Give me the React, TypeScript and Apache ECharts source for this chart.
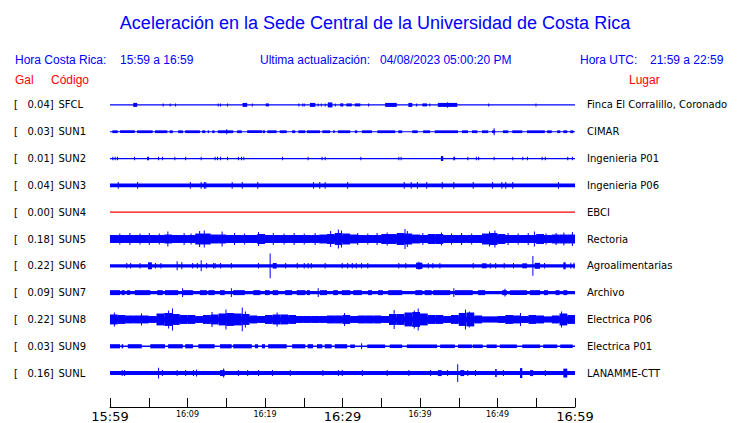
import React, { useEffect, useRef } from 'react';
import * as echarts from 'echarts';

// ---- Data ----
const CODES = ['SFCL', 'SUN1', 'SUN2', 'SUN3', 'SUN4', 'SUN5', 'SUN6', 'SUN7', 'SUN8', 'SUN9', 'SUNL'];
const GAL = ['0.04', '0.03', '0.01', '0.04', '0.00', '0.18', '0.22', '0.09', '0.22', '0.03', '0.16'];
const PLACES = [
  'Finca El Corralillo, Coronado', 'CIMAR', 'Ingenieria P01', 'Ingenieria P06', 'EBCI', 'Rectoria',
  'Agroalimentarias', 'Archivo', 'Electrica P06', 'Electrica P01', 'LANAMME-CTT',
];
// tick labels, one per 5-minute tick (minutes after 15:59)
const TIME_LABELS = ['15:59', '', '16:09', '', '16:19', '', '16:29', '', '16:39', '', '16:49', '', '16:59'];
const MAJOR_TICKS = [0, 6, 12];

// half amplitude of the quiet trace (display counts; 27 counts = one trace spacing)
const BASE = [0.6, 0.6, 0.6, 1.8, 0.6, 3.5, 1.7, 1.7, 2.8, 0.8, 2];

// per-minute envelopes (half amplitude)
const ENV_SUN5 = [
  4, 4, 4, 4, 4, 4, 4, 4.5, 4, 4,
  4, 5.5, 5.5, 4.5, 4.5, 4, 4, 4, 4, 5,
  4, 4, 4, 4, 4, 4, 4, 4.5, 5, 6,
  5.5, 4.5, 4, 4, 4, 5, 5, 6, 5.5, 4.5,
  4, 5, 5, 4, 4, 4, 4, 4, 5.5, 6,
  5, 4, 4, 4, 4, 5, 4, 4.5, 4.5, 4.5,
];
const ENV_SUN8 = [
  5, 4.5, 4, 4, 4, 3.5, 6, 6.5, 5.5, 4.5,
  4.5, 3.5, 4.5, 5, 6, 6.5, 6, 5.5, 4, 3.5,
  4.5, 5, 5, 4.5, 3.5, 3.5, 3.5, 3.5, 4, 4,
  4.5, 3.5, 4, 4, 4, 3.5, 5.5, 5.5, 7, 7.5,
  6, 4.5, 4.5, 3.5, 4.5, 6.5, 7, 4, 3, 3,
  3.5, 4.5, 4, 3.5, 4.5, 4, 3, 4, 6, 4.5,
];

// bursts: [start minute, end minute, half amplitude]
const SFCL_BURSTS = [
  [3.0, 3.5, 2], [17.1, 17.7, 2], [20.1, 20.5, 1.5], [25.8, 26.5, 2], [28.1, 28.7, 2.5],
  [29.7, 30.1, 1.5], [30.5, 31.2, 1.5], [31.6, 32.3, 1.5], [35.5, 37.0, 2], [38.5, 39.0, 2],
  [40.3, 40.9, 1.5], [42.3, 44.8, 2],
];
const SUN1_BURSTS = [
  [0.3, 1.0, 1.4], [1.3, 3.2, 1.4], [3.5, 5.5, 1.4], [5.8, 7.4, 1.4], [7.7, 8.1, 1.4], [8.8, 9.4, 1.4],
  [9.7, 11.6, 1.4], [11.9, 12.3, 1.4], [12.6, 12.8, 1.4], [13.2, 13.5, 1.4], [13.9, 15.9, 1.4],
  [16.4, 17.0, 1.4], [17.7, 19.6, 1.4], [19.7, 20.0, 1.4], [20.3, 21.5, 1.4], [21.9, 22.8, 1.4],
  [23.5, 23.9, 1.4], [24.3, 25.2, 1.4], [25.4, 27.1, 1.4], [27.4, 28.4, 1.4], [28.8, 29.0, 1.4],
  [29.4, 31.0, 1.4], [31.6, 31.9, 1.4], [32.5, 33.8, 1.4], [34.5, 36.8, 1.4], [37.2, 37.7, 1.4],
  [39.0, 39.7, 1.4], [40.4, 41.3, 1.4], [41.9, 44.9, 1.4], [45.4, 46.2, 1.4], [46.7, 47.4, 1.4],
  [48.0, 48.8, 1.4], [49.3, 49.7, 1.4], [50.7, 51.4, 1.4], [51.9, 53.2, 1.4], [53.8, 56.1, 1.4],
  [56.4, 57.0, 1.4], [57.7, 58.1, 1.4], [58.5, 59.0, 1.4], [59.4, 59.8, 1.4],
];
const SUN2_BURSTS = [[42.7, 43.0, 2.5]];
const SUN3_BURSTS: number[][] = [];
const SUN4_BURSTS: number[][] = [];
const SUN5_BURSTS: number[][] = [];
const SUN6_BURSTS = [
  [4.9, 5.4, 3.5], [21.0, 21.5, 2.8], [39.5, 40.3, 3.2], [48.0, 48.6, 2.5], [53.2, 53.8, 2.5],
  [54.8, 55.5, 3], [58.5, 58.8, 3.5],
];
const SUN7_BURSTS = [
  [0, 1.3, 2.5], [1.5, 1.9, 2.5], [2.2, 2.6, 2.5], [3.2, 5.2, 2.5], [6.1, 6.8, 2.5], [7.1, 8.8, 2.5],
  [9.4, 10.7, 2.5], [11.6, 12.5, 2.5], [12.7, 13.5, 2.5], [14.2, 14.8, 2.5], [15.9, 17.4, 2.5],
  [18.5, 19.4, 2.5], [20.0, 20.6, 2.5], [21.0, 21.7, 2.5], [22.6, 23.5, 2.5], [24.1, 25.2, 2.5],
  [25.4, 25.8, 2.5], [27.1, 28.0, 2.5], [28.8, 29.4, 2.5], [29.9, 31.0, 2.5], [31.4, 32.5, 2.5],
  [33.3, 33.8, 2.5], [34.6, 35.2, 2.5], [35.9, 37.7, 2.5], [39.4, 40.3, 2.5], [40.6, 41.5, 2.5],
  [41.7, 43.9, 2.5], [44.5, 46.8, 2.5], [47.5, 48.4, 2.5], [50.6, 51.2, 2.5], [51.6, 53.8, 2.5],
  [54.2, 55.5, 2.5], [56.0, 56.5, 2.5], [57.5, 58.0, 2.5], [58.5, 59.0, 2.5],
];
const SUN8_BURSTS: number[][] = [];
const SUN9_BURSTS = [
  [0, 1.3, 2.1], [1.5, 1.7, 2.1], [2.3, 4.1, 2.1], [5.2, 7.1, 2.1], [7.5, 9.4, 2.1], [9.7, 10.7, 2.1],
  [11.4, 13.5, 2.1], [14.2, 15.7, 2.1], [15.9, 18.3, 2.1], [18.7, 19.1, 2.1], [19.6, 20.0, 2.1],
  [20.4, 22.8, 2.1], [23.5, 25.2, 2.1], [25.5, 26.2, 2.1], [26.7, 27.4, 2.1], [27.7, 28.6, 2.1],
  [29.0, 30.6, 2.1], [31.0, 31.6, 1.8], [33.2, 35.5, 1.8], [36.1, 37.7, 1.8], [38.3, 42.2, 1.8],
  [42.6, 44.5, 1.8], [44.9, 46.7, 1.8], [46.8, 48.1, 1.8], [48.6, 49.9, 1.8], [50.3, 52.5, 1.8],
  [53.2, 55.5, 1.8], [55.9, 57.7, 1.8], [58.1, 59.7, 1.8],
];
const SUNL_BURSTS = [
  [14.2, 14.8, 3], [42.3, 42.8, 3], [45.2, 45.7, 3], [49.7, 49.9, 4], [52.9, 53.2, 5], [54.2, 54.6, 3],
  [58.5, 59.0, 4.5],
];

// spikes: [minute, half amplitude]
const SFCL_SPIKES = [
  [6.8, 1.5], [7.7, 1.5], [8.4, 1.5], [13.9, 1.5], [14.2, 1.5], [15.1, 1.5], [18.3, 1.5], [24.3, 1.5],
  [24.8, 1.5], [25.0, 1.5], [26.8, 1.5], [27.2, 1.5], [27.7, 1.5], [29.0, 1.5], [29.9, 1.5], [33.3, 1.5],
  [39.5, 1.5], [41.2, 1.5], [43.5, 2.8], [48.8, 1.5], [54.9, 1.5],
];
const SUN1_SPIKES = [[15.0, 2.5], [49.5, 3.5]];
const SUN2_SPIKES = [
  [0.3, 1.8], [0.6, 1.8], [0.9, 1.8], [3.1, 1.8], [4.8, 1.8], [4.9, 1.8], [6.2, 1.8], [6.7, 1.8],
  [8.3, 1.8], [9.7, 1.8], [11.7, 1.8], [13.5, 1.8], [13.8, 1.8], [14.2, 1.8], [15.1, 1.8], [16.5, 1.8],
  [16.9, 1.8], [17.2, 1.8], [22.2, 1.8], [25.5, 1.8], [27.3, 1.8], [27.7, 1.8], [32.3, 1.8], [37.2, 1.8],
  [37.5, 1.8], [44.3, 1.8], [44.4, 1.8], [46.1, 1.8], [47.2, 1.8], [47.5, 1.8], [49.5, 1.8], [51.9, 1.8],
  [53.2, 1.8], [53.8, 1.8], [55.7, 1.8], [56.1, 1.8], [59.0, 1.8], [59.6, 1.8],
];
const SUN3_SPIKES = [
  [1.0, 3.3], [3.5, 3.3], [10.3, 3.3], [11.7, 3.3], [12.1, 3.3], [12.3, 3.3], [15.7, 3.3], [17.0, 3.3],
  [19.0, 3.3], [26.2, 3.3], [27.0, 3.3], [27.7, 3.3], [30.6, 3.3], [37.9, 3.3], [38.8, 3.3], [39.6, 3.3],
  [40.8, 3.3], [42.8, 3.3], [44.3, 3.3], [46.8, 3.3], [49.3, 3.3], [50.5, 3.3], [51.0, 3.3], [51.9, 3.3],
  [57.8, 3.3],
];
const SUN4_SPIKES: number[][] = [];
const SUN5_SPIKES = [
  [7.4, 7.5], [11.5, 8], [12.1, 8.5], [14.4, 7.5], [19.1, 7], [28.4, 8], [29.4, 9.5], [29.8, 8.5],
  [35.7, 6.5], [38.0, 10], [38.3, 8], [40.3, 6], [48.9, 7.5], [49.6, 8.5], [54.7, 7.5], [57.5, 6],
  [1.2, 5.5], [2.5, 6], [3.8, 5.5], [5.0, 6], [6.3, 5.5], [9.5, 6], [10.4, 5.5], [16.0, 6], [17.3, 5.5],
  [21.0, 6], [22.4, 5.5], [23.7, 6], [25.0, 5.5], [26.4, 6], [31.9, 6], [33.2, 5.5], [34.4, 6],
  [42.7, 6.5], [44.0, 5.5], [45.3, 6], [46.6, 5.5], [51.3, 6], [52.6, 5.5], [53.9, 6], [56.2, 5.5],
  [58.5, 6.5], [59.6, 7],
];
const SUN6_SPIKES = [
  [2.1, 2.8], [2.6, 2.8], [3.8, 2.8], [5.8, 2.8], [6.5, 2.8], [8.6, 4.5], [9.2, 3.5], [10.6, 2.8],
  [11.2, 2.8], [11.7, 5.5], [12.4, 2.8], [13.3, 2.8], [13.5, 2.8], [14.2, 2.8], [15.6, 2.8], [19.1, 2.8],
  [20.6, 12.5], [22.6, 2.8], [24.1, 2.8], [25.0, 2.8], [25.5, 2.8], [25.9, 2.8], [27.7, 2.8], [29.9, 2.8],
  [30.6, 2.8], [31.2, 2.8], [31.7, 2.8], [32.4, 2.8], [33.2, 2.8], [37.2, 2.8], [38.1, 2.8], [39.8, 4],
  [41.0, 2.8], [41.6, 2.8], [42.5, 2.8], [46.8, 2.8], [49.0, 2.8], [49.7, 2.8], [50.8, 2.8], [52.0, 2.8],
  [54.5, 10], [56.0, 2.8], [59.4, 3], [59.8, 3],
];
const SUN7_SPIKES = [[9.3, 4.5], [15.6, 4.5], [26.8, 4.5], [44.3, 4.5], [50.9, 3.8]];
const SUN8_SPIKES = [
  [0.5, 7], [4.0, 6], [7.5, 9], [8.0, 11], [13.1, 7.5], [14.9, 10], [17.0, 12], [17.4, 8], [21.5, 7],
  [30.2, 6.5], [36.6, 9.5], [39.2, 9], [39.7, 11], [45.8, 10], [46.3, 8], [52.9, 6.5], [58.2, 8],
];
const SUN9_SPIKES = [[32.4, 3]];
const SUNL_SPIKES = [
  [1.5, 3], [1.8, 3], [6.2, 5.5], [6.7, 3], [8.6, 3], [9.7, 3], [10.7, 3], [11.1, 3.5], [14.6, 4.5],
  [16.5, 3], [17.7, 3], [19.1, 3], [20.9, 3], [23.2, 3], [27.4, 3], [29.4, 3], [29.9, 3], [32.5, 3],
  [35.7, 3], [38.5, 3], [41.3, 3], [43.5, 3], [44.8, 9], [46.1, 3], [47.1, 3], [50.7, 3], [56.1, 3],
];

const ENVELOPES: (number[] | null)[] = [null, null, null, null, null, ENV_SUN5, null, null, ENV_SUN8, null, null];
const BURSTS = [SFCL_BURSTS, SUN1_BURSTS, SUN2_BURSTS, SUN3_BURSTS, SUN4_BURSTS, SUN5_BURSTS, SUN6_BURSTS,
  SUN7_BURSTS, SUN8_BURSTS, SUN9_BURSTS, SUNL_BURSTS];
const SPIKES = [SFCL_SPIKES, SUN1_SPIKES, SUN2_SPIKES, SUN3_SPIKES, SUN4_SPIKES, SUN5_SPIKES, SUN6_SPIKES,
  SUN7_SPIKES, SUN8_SPIKES, SUN9_SPIKES, SUNL_SPIKES];

const DURATION = 60;
const COUNTS_PER_TRACE = 27;
const SPIKE_WIDTH = 0.13;
const BLUE = '#0000ff';
const RED = '#ff0000';
const TRACE_COLORS = CODES.map((c) => (c === 'SUN4' ? RED : BLUE));

const LABEL_FONT = 'DejaVu Sans, sans-serif';
const HEAD_FONT = 'Liberation Sans, Arial, Helvetica, sans-serif';

function buildItems() {
  const items: number[][] = [];
  CODES.forEach((_, i) => {
    items.push([i, 0, DURATION, BASE[i]]);
    const env = ENVELOPES[i];
    if (env) env.forEach((a, m) => items.push([i, m, m + 1, a]));
    BURSTS[i].forEach((b) => items.push([i, b[0], b[1], b[2]]));
    SPIKES[i].forEach((s) => items.push([i, s[0], s[0] + SPIKE_WIDTH, s[1]]));
  });
  return items;
}

function renderItem(_params: any, api: any) {
  const ti = api.value(0);
  const t0 = api.value(1);
  const t1 = api.value(2);
  const a = api.value(3) / COUNTS_PER_TRACE;
  const center = CODES.length - 1 - ti;
  const p0 = api.coord([t0, center + a]);
  const p1 = api.coord([t1, center - a]);
  return {
    type: 'rect',
    shape: { x: p0[0], y: p0[1], width: Math.max(p1[0] - p0[0], 1), height: Math.max(p1[1] - p0[1], 1) },
    style: { fill: TRACE_COLORS[ti] },
  };
}

function headText(text: string, x: number, y: number, color: string, size = 12, align = 'left') {
  return {
    type: 'text',
    x,
    y,
    style: { text, fill: color, fontSize: size, fontFamily: HEAD_FONT, textAlign: align, textVerticalAlign: 'middle' },
  };
}

export default function App() {
  const ref = useRef<HTMLDivElement>(null);
  useEffect(() => {
    document.body.style.margin = '0';
    const chart = echarts.init(ref.current!, null, { renderer: 'svg' });
    const option: any = {
      animation: false,
      backgroundColor: '#ffffff',
      grid: { left: 110, right: 165, top: 91.5, height: 297, containLabel: false },
      xAxis: {
        type: 'value',
        min: 0,
        max: DURATION,
        interval: 5,
        offset: 20.5,
        splitLine: { show: false },
        axisLine: { show: true, onZero: false, lineStyle: { color: '#000', width: 1 } },
        axisTick: { show: true, inside: true, length: 9, lineStyle: { color: '#000', width: 1 } },
        axisLabel: {
          show: true,
          margin: 3,
          showMinLabel: true,
          showMaxLabel: true,
          hideOverlap: false,
          formatter: (v: number) => {
            const idx = Math.round(v / 5);
            const lab = TIME_LABELS[idx];
            if (!lab) return '';
            return MAJOR_TICKS.includes(idx) ? `{big|${lab}}` : `{small|${lab}}`;
          },
          rich: {
            big: { fontSize: 13, fontFamily: LABEL_FONT, color: '#000' },
            small: { fontSize: 8, fontFamily: LABEL_FONT, color: '#000' },
          },
        },
      },
      yAxis: [
        { type: 'value', min: -0.5, max: CODES.length - 0.5, show: false },
        {
          type: 'category',
          position: 'left',
          inverse: true,
          data: CODES,
          axisLine: { show: false },
          axisTick: { show: false },
          splitLine: { show: false },
          axisLabel: {
            align: 'left',
            margin: 96,
            interval: 0,
            formatter: (val: string, idx: number) => `{br|[}{gal|${GAL[idx]}]}{code|${val}}`,
            rich: {
              br: { width: 13.5, fontSize: 10, fontFamily: LABEL_FONT, color: '#000' },
              gal: { width: 31, fontSize: 10, fontFamily: LABEL_FONT, color: '#000' },
              code: { fontSize: 10, fontFamily: LABEL_FONT, color: '#000' },
            },
          },
        },
        {
          type: 'category',
          position: 'right',
          inverse: true,
          data: PLACES,
          axisLine: { show: false },
          axisTick: { show: false },
          splitLine: { show: false },
          axisLabel: { align: 'left', margin: 12, interval: 0, fontSize: 10, fontFamily: LABEL_FONT, color: '#000' },
        },
      ],
      series: [
        {
          type: 'custom',
          yAxisIndex: 0,
          renderItem,
          data: buildItems(),
          silent: true,
        },
      ],
      graphic: [
        headText('Aceleración en la Sede Central de la Universidad de Costa Rica', 375, 23, BLUE, 18, 'center'),
        headText('Hora Costa Rica:', 15, 60, BLUE),
        headText('15:59 a 16:59', 120, 60, BLUE),
        headText('Ultima actualización:', 260, 60, BLUE),
        headText('04/08/2023 05:00:20 PM', 380, 60, BLUE),
        headText('Hora UTC:', 580, 60, BLUE),
        headText('21:59 a 22:59', 650, 60, BLUE),
        headText('Gal', 15, 80, RED),
        headText('Código', 51, 80, RED),
        headText('Lugar', 629, 80, RED),
      ],
    };
    chart.setOption(option);
    return () => chart.dispose();
  }, []);
  return <div ref={ref} style={{ width: 740, height: 423 }} />;
}
